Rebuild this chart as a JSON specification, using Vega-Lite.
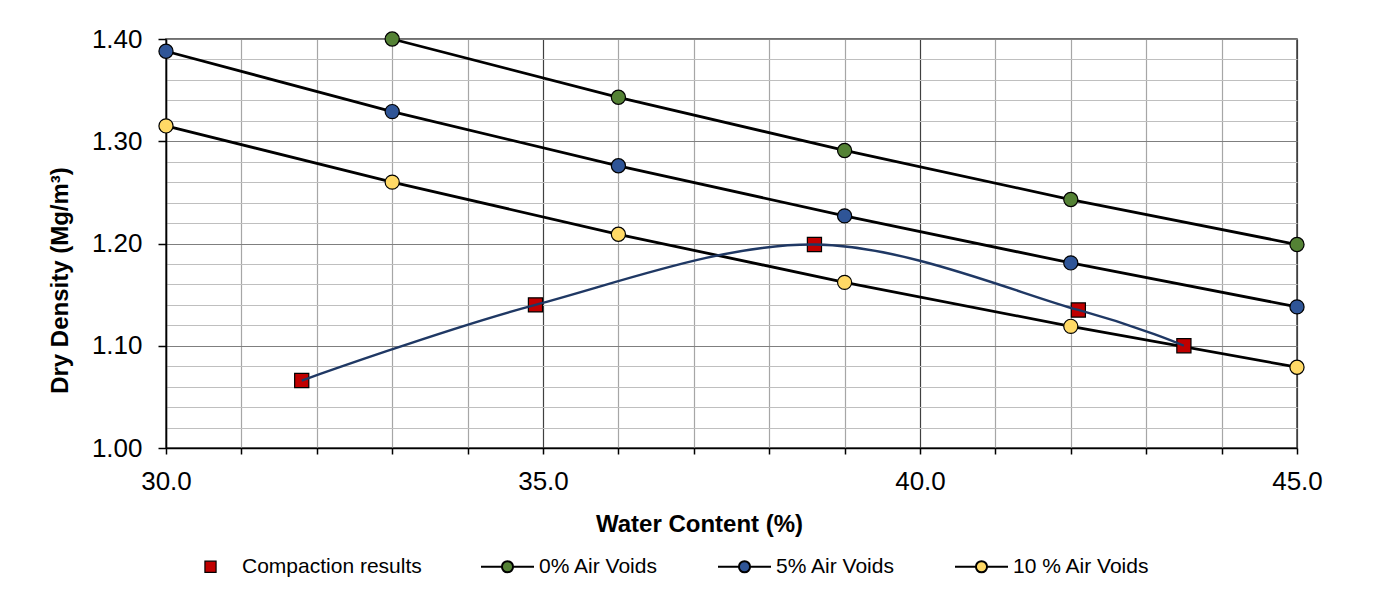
{
  "$schema": "https://vega.github.io/schema/vega-lite/v6.json",
  "width": 1131,
  "height": 409,
  "autosize": {"type": "none"},
  "padding": {"left": 166, "top": 39, "right": 95, "bottom": 141},
  "background": "white",
  "config": {
    "font": "Liberation Sans",
    "view": {"stroke": "#404040", "strokeWidth": 1.5}
  },
  "data": {
    "values": [
      {"series": "0% Air Voids", "w": 33, "rho": 1.400},
      {"series": "0% Air Voids", "w": 36, "rho": 1.343},
      {"series": "0% Air Voids", "w": 39, "rho": 1.291},
      {"series": "0% Air Voids", "w": 42, "rho": 1.243},
      {"series": "0% Air Voids", "w": 45, "rho": 1.199},
      {"series": "5% Air Voids", "w": 30, "rho": 1.388},
      {"series": "5% Air Voids", "w": 33, "rho": 1.329},
      {"series": "5% Air Voids", "w": 36, "rho": 1.276},
      {"series": "5% Air Voids", "w": 39, "rho": 1.227},
      {"series": "5% Air Voids", "w": 42, "rho": 1.181},
      {"series": "5% Air Voids", "w": 45, "rho": 1.138},
      {"series": "10 % Air Voids", "w": 30, "rho": 1.315},
      {"series": "10 % Air Voids", "w": 33, "rho": 1.260},
      {"series": "10 % Air Voids", "w": 36, "rho": 1.209},
      {"series": "10 % Air Voids", "w": 39, "rho": 1.162},
      {"series": "10 % Air Voids", "w": 42, "rho": 1.119},
      {"series": "10 % Air Voids", "w": 45, "rho": 1.079},
      {"series": "Compaction results", "w": 31.8, "rho": 1.066},
      {"series": "Compaction results", "w": 34.9, "rho": 1.140},
      {"series": "Compaction results", "w": 38.6, "rho": 1.199},
      {"series": "Compaction results", "w": 42.1, "rho": 1.135},
      {"series": "Compaction results", "w": 43.5, "rho": 1.100}
    ]
  },
  "encoding": {
    "x": {
      "field": "w",
      "type": "quantitative",
      "scale": {"domain": [30, 45], "nice": false, "zero": false},
      "axis": {
        "title": "Water Content (%)",
        "values": [30, 31, 32, 33, 34, 35, 36, 37, 38, 39, 40, 41, 42, 43, 44, 45],
        "format": ".1f",
        "labelExpr": "datum.value % 5 == 0 ? datum.label : ''",
        "labelFontSize": 26,
        "labelColor": "black",
        "labelPadding": 14,
        "labelFlush": false,
        "labelOverlap": false,
        "tickSize": 6,
        "tickColor": "black",
        "tickWidth": 1.5,
        "domainColor": "black",
        "domainWidth": 1.5,
        "grid": true,
        "gridColor": {"condition": {"test": "datum.value % 5 == 0", "value": "#404040"}, "value": "#a6a6a6"},
        "gridWidth": 1.2,
        "titleFontSize": 24,
        "titleFontWeight": "bold",
        "titleColor": "black",
        "titleX": 533,
        "titleY": 83,
        "titleBaseline": "alphabetic"
      }
    },
    "y": {
      "field": "rho",
      "type": "quantitative",
      "scale": {"domain": [1.0, 1.4], "nice": false, "zero": false},
      "axis": {
        "title": "Dry Density (Mg/m³)",
        "values": [1.0, 1.02, 1.04, 1.06, 1.08, 1.1, 1.12, 1.14, 1.16, 1.18, 1.2, 1.22, 1.24, 1.26, 1.28, 1.3, 1.32, 1.34, 1.36, 1.38, 1.4],
        "format": ".2f",
        "labelExpr": "abs(datum.value*10 - round(datum.value*10)) < 0.001 ? datum.label : ''",
        "labelFontSize": 26,
        "labelColor": "black",
        "labelPadding": 16,
        "labelFlush": false,
        "labelOverlap": false,
        "labelBaseline": "middle",
        "tickSize": 8,
        "tickColor": "black",
        "tickWidth": 1.5,
        "tickOpacity": {"condition": {"test": "abs(datum.value*10 - round(datum.value*10)) < 0.001", "value": 1}, "value": 0},
        "domainColor": "black",
        "domainWidth": 1.5,
        "grid": true,
        "gridColor": {"condition": {"test": "abs(datum.value*10 - round(datum.value*10)) < 0.001", "value": "#7f7f7f"}, "value": "#bfbfbf"},
        "gridWidth": 1.2,
        "titleFontSize": 24,
        "titleFontWeight": "bold",
        "titleColor": "black",
        "titleX": -99,
        "titleY": 241,
        "titleAngle": -90,
        "titleAlign": "center",
        "titleBaseline": "alphabetic"
      }
    }
  },
  "layer": [
    {
      "transform": [{"filter": "datum.series != 'Compaction results'"}],
      "mark": {"type": "line", "color": "black", "strokeWidth": 2.8},
      "encoding": {"detail": {"field": "series", "type": "nominal"}}
    },
    {
      "transform": [{"filter": "datum.series == '0% Air Voids'"}],
      "mark": {"type": "point", "filled": true, "shape": "circle", "size": 200, "fill": "#548235", "stroke": "black", "strokeWidth": 1.2, "opacity": 1}
    },
    {
      "transform": [{"filter": "datum.series == '5% Air Voids'"}],
      "mark": {"type": "point", "filled": true, "shape": "circle", "size": 200, "fill": "#2f5597", "stroke": "black", "strokeWidth": 1.2, "opacity": 1}
    },
    {
      "transform": [{"filter": "datum.series == '10 % Air Voids'"}],
      "mark": {"type": "point", "filled": true, "shape": "circle", "size": 200, "fill": "#ffd966", "stroke": "black", "strokeWidth": 1.2, "opacity": 1}
    },
    {
      "transform": [{"filter": "datum.series == 'Compaction results'"}],
      "mark": {"type": "square", "filled": true, "color": "#c00000", "size": 200, "stroke": "black", "strokeWidth": 1.2, "opacity": 1}
    },
    {
      "transform": [{"filter": "datum.series == 'Compaction results'"}],
      "mark": {"type": "line", "interpolate": "cardinal", "color": "#1f3864", "strokeWidth": 2.4}
    },
    {
      "mark": {"type": "point", "filled": true, "stroke": "black", "strokeWidth": 2, "opacity": 0},
      "encoding": {
        "fill": {
          "field": "series",
          "type": "nominal",
          "scale": {"domain": ["Compaction results", "0% Air Voids", "5% Air Voids", "10 % Air Voids"], "range": ["#c00000", "#548235", "#2f5597", "#ffd966"]},
          "legend": {
            "title": null,
            "orient": "none",
            "legendX": 18,
            "legendY": 517,
            "direction": "horizontal",
            "columnPadding": 55,
            "labelOffset": 5,
            "labelFontSize": 21,
            "labelFont": "Liberation Sans",
            "labelColor": "black",
            "labelLimit": 400,
            "symbolSize": 2809,
            "symbolStrokeColor": "black",
            "symbolStrokeWidth": 2,
            "symbolOpacity": 1,
            "encode": {
              "symbols": {
                "update": {
                  "x": {"value": 26.5},
                  "shape": {"signal": "datum.value == 'Compaction results' ? 'M-0.21,-0.21H0.21V0.21H-0.21Z' : 'M-1,0H-0.21M0.21,0H1M0.21,0A0.21,0.21,0,1,1,-0.21,0A0.21,0.21,0,1,1,0.21,0Z'"},
                  "size": {"value": 2809},
                  "stroke": {"value": "black"},
                  "strokeWidth": {"signal": "datum.value == 'Compaction results' ? 1.2 : 2"},
                  "opacity": {"value": 1},
                  "fillOpacity": {"value": 1},
                  "strokeOpacity": {"value": 1}
                }
              },
              "labels": {
                "update": {
                  "x": {"value": 58}
                }
              }
            }
          }
        }
      }
    }
  ]
}
